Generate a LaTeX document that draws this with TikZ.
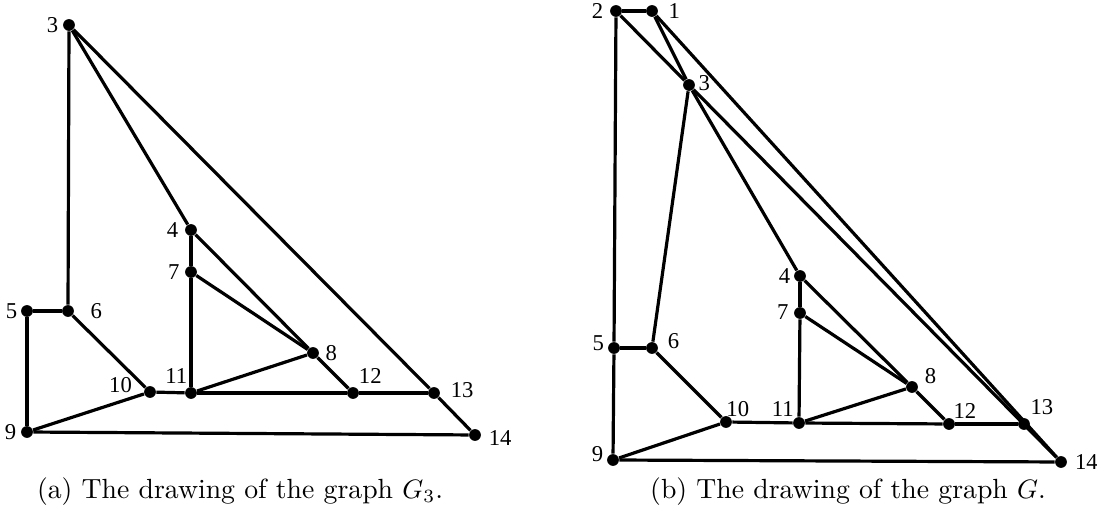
\documentclass[tikz,border=0pt]{standalone}
\usepackage{fontspec}
\newfontfamily\labfont{Liberation Serif}
\usetikzlibrary{positioning}

\begin{document}
\begin{tikzpicture}[x=0.375pt,y=-0.375pt,
  vtx/.style={circle,fill=black,inner sep=0pt,minimum size=4.4pt},
  lab/.style={font=\labfont\fontsize{8.5}{9}\selectfont,inner sep=0pt,anchor=center},
  edge/.style={draw=black,line width=1.2pt},
  captext/.style={font=\fontsize{10.4}{12}\selectfont,inner sep=0pt}]
\useasboundingbox (0,0) rectangle (1097,512);

% ---- (a) the graph G_3 ----
\node[vtx,label={[lab,label distance=3.75pt]180:3}] (a3) at (69,25) {};
\node[vtx,label={[lab,label distance=4.5pt]180:4}] (a4) at (191,230) {};
\node[vtx,label={[lab,label distance=4.1pt]180:7}] (a7) at (191,272) {};
\node[vtx,label={[lab,label distance=3.4pt]180:5}] (a5) at (27,311) {};
\node[vtx,label={[lab,label distance=8.25pt]0:6}] (a6) at (68,311) {};
\node[vtx,label={[lab,label distance=4.5pt]0:8}] (a8) at (313,353) {};
\node[vtx,label={[lab,label distance=9pt]166:10}] (a10) at (150,392) {};
\node[vtx,label={[lab,label distance=6pt]131:11}] (a11) at (191,393) {};
\node[vtx,label={[lab,label distance=6.75pt]45:12}] (a12) at (353,393) {};
\node[vtx,label={[lab,label distance=8.25pt]6:13}] (a13) at (434,393) {};
\node[vtx,label={[lab,label distance=7.1pt]-7:14}] (a14) at (475,435) {};
\node[vtx,label={[lab,label distance=3.75pt]180:9}] (a9) at (27,432) {};

\foreach \u/\v in {3/6,3/4,3/13,13/14,4/7,4/8,8/12,7/8,7/11,8/11,
                   5/6,5/9,6/10,9/10,10/11,11/12,12/13,9/14}
  \draw[edge] (a\u) -- (a\v);

% ---- (b) the graph G ----
\node[vtx,label={[lab,label distance=4.5pt]180:2}] (b2) at (616,11) {};
\node[vtx,label={[lab,label distance=6pt]0:1}] (b1) at (652,11) {};
\node[vtx,label={[lab,label distance=3.4pt]8:3}] (b3) at (689,85) {};
\node[vtx,label={[lab,label distance=3.4pt]180:4}] (b4) at (800,276) {};
\node[vtx,label={[lab,label distance=4.1pt]176:7}] (b7) at (800,313) {};
\node[vtx,label={[lab,label distance=3.75pt]164:5}] (b5) at (614,348) {};
\node[vtx,label={[lab,label distance=6pt]17:6}] (b6) at (652,348) {};
\node[vtx,label={[lab,label distance=5.6pt]30:8}] (b8) at (912,387) {};
\node[vtx,label={[lab,label distance=4.1pt]47:10}] (b10) at (726,422) {};
\node[vtx,label={[lab,label distance=5.6pt]139:11}] (b11) at (799,423) {};
\node[vtx,label={[lab,label distance=5.25pt]39:12}] (b12) at (949,424) {};
\node[vtx,label={[lab,label distance=6.75pt]43:13}] (b13) at (1024,424) {};
\node[vtx,label={[lab,label distance=7.1pt]0:14}] (b14) at (1061,462) {};
\node[vtx,label={[lab,label distance=3.75pt]160:9}] (b9) at (613,460) {};

\foreach \u/\v in {2/1,2/3,1/3,1/14,3/14,3/6,3/4,4/7,4/8,8/12,7/8,7/11,8/11,
                   2/5,5/6,5/9,6/10,9/10,10/11,11/12,12/13,9/14}
  \draw[edge] (b\u) -- (b\v);

% ---- captions ----
\node[captext] (capa) at (240,492) {(a) The drawing of the graph $G_3$.};
\node[captext] (capb) at (848,492) {(b) The drawing of the graph $G$.};
\end{tikzpicture}
\end{document}
